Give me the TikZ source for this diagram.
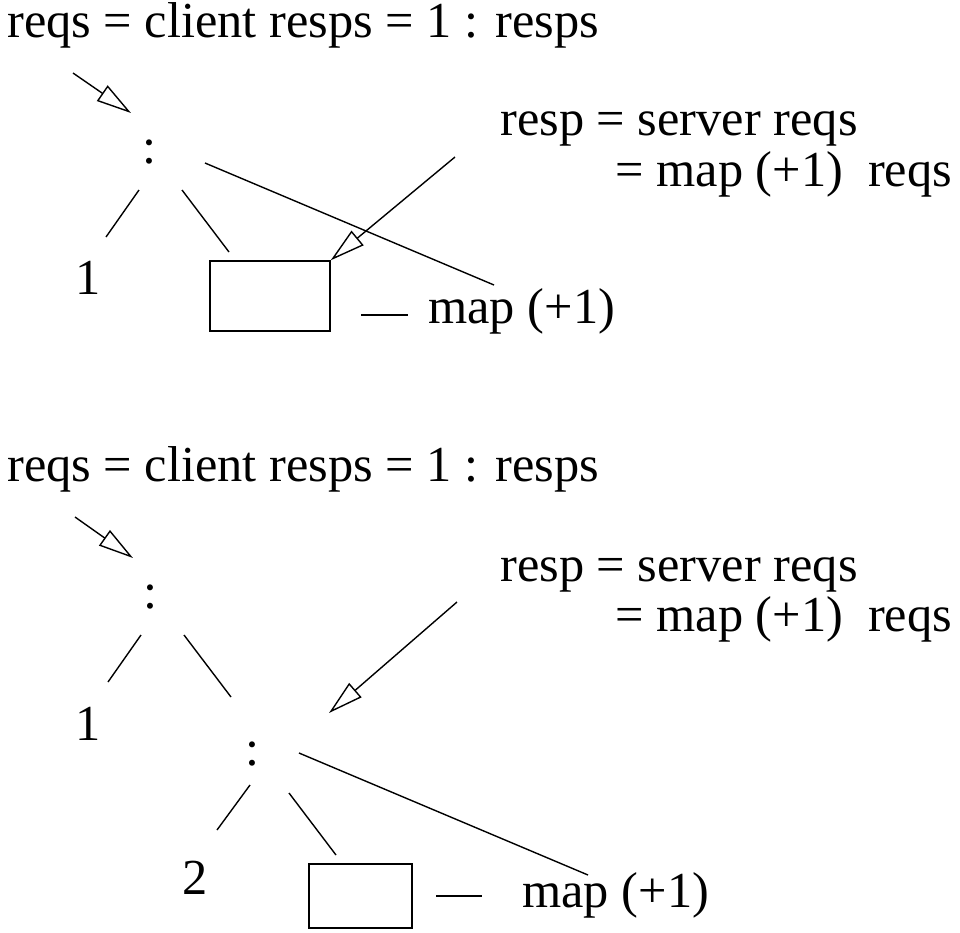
\documentclass[tikz,border=0pt]{standalone}
\usepackage{fontspec}
\setmainfont{Liberation Serif}
\usetikzlibrary{arrows.meta}
\begin{document}
\begin{tikzpicture}[x=0.5pt,y=-0.5pt,
  txt/.style={anchor=base west,inner sep=0pt,font=\fontsize{25.2}{30}\selectfont},
  ctxt/.style={anchor=base,inner sep=0pt,font=\fontsize{25.2}{30}\selectfont},
  ln/.style={line width=0.7pt},
  arr/.style={line width=0.7pt,-{Triangle[open,length=17.5pt,width=9.4pt]}},
  box/.style={draw,line width=0.7pt,minimum width=60pt,minimum height=35pt,inner sep=0pt}]
\useasboundingbox (0,0) rectangle (960,933);
% ---------- first tree ----------
\node[txt] (t1) at (7,37) {reqs = client resps = 1 : resps};
\node[txt] (s1) at (500,135) {resp = server reqs};
\node[txt] (m1) at (615,186) {= map (+1)\ \ reqs};
\node[ctxt] (c1) at (150,163) {:};
\node[ctxt] (o1) at (88,294) {1};
\node[box] (b1) at (270,296) {};
\node[txt] (p1) at (428,323) {map (+1)};
\coordinate (a1s) at (73,73);
\coordinate (a1e) at (131,113);
\coordinate (l1a) at (139,190); \coordinate (l1b) at (106,237);
\coordinate (r1a) at (182,190); \coordinate (r1b) at (229,252);
\coordinate (g1a) at (205,163); \coordinate (g1b) at (494,285);
\coordinate (a2s) at (455,157);
\coordinate (d1a) at (361,315); \coordinate (d1b) at (408,315);
\draw[arr] (a1s) -- (a1e);
\draw[ln] (l1a) -- (l1b);
\draw[ln] (r1a) -- (r1b);
\draw[ln] (g1a) -- (g1b);
\draw[arr] (a2s) -- (b1.north east);
\draw[ln] (d1a) -- (d1b);
% ---------- second tree ----------
\node[txt] (t2) at (7,481) {reqs = client resps = 1 : resps};
\node[txt] (s2) at (500,581) {resp = server reqs};
\node[txt] (m2) at (615,631) {= map (+1)\ \ reqs};
\node[ctxt] (c2) at (151,608) {:};
\node[ctxt] (o2) at (88,740) {1};
\node[ctxt] (c3) at (253,765) {:};
\node[ctxt] (o3) at (195,894) {2};
\node[box,minimum width=51.5pt,minimum height=32pt] (b2) at (360.5,896) {};
\node[txt] (p2) at (522,907) {map (+1)};
\coordinate (a3s) at (75,517); \coordinate (a3e) at (133,558);
\coordinate (l2a) at (141,635); \coordinate (l2b) at (108,682);
\coordinate (r2a) at (184,635); \coordinate (r2b) at (231,697);
\coordinate (a4s) at (457,602); \coordinate (a4e) at (329,713);
\coordinate (l3a) at (250,785); \coordinate (l3b) at (217,830);
\coordinate (r3a) at (289,793); \coordinate (r3b) at (336,855);
\coordinate (g2a) at (299,753); \coordinate (g2b) at (588,875);
\coordinate (d2a) at (436,896); \coordinate (d2b) at (482,896);
\draw[arr] (a3s) -- (a3e);
\draw[ln] (l2a) -- (l2b);
\draw[ln] (r2a) -- (r2b);
\draw[arr] (a4s) -- (a4e);
\draw[ln] (l3a) -- (l3b);
\draw[ln] (r3a) -- (r3b);
\draw[ln] (g2a) -- (g2b);
\draw[ln] (d2a) -- (d2b);
\end{tikzpicture}
\end{document}
